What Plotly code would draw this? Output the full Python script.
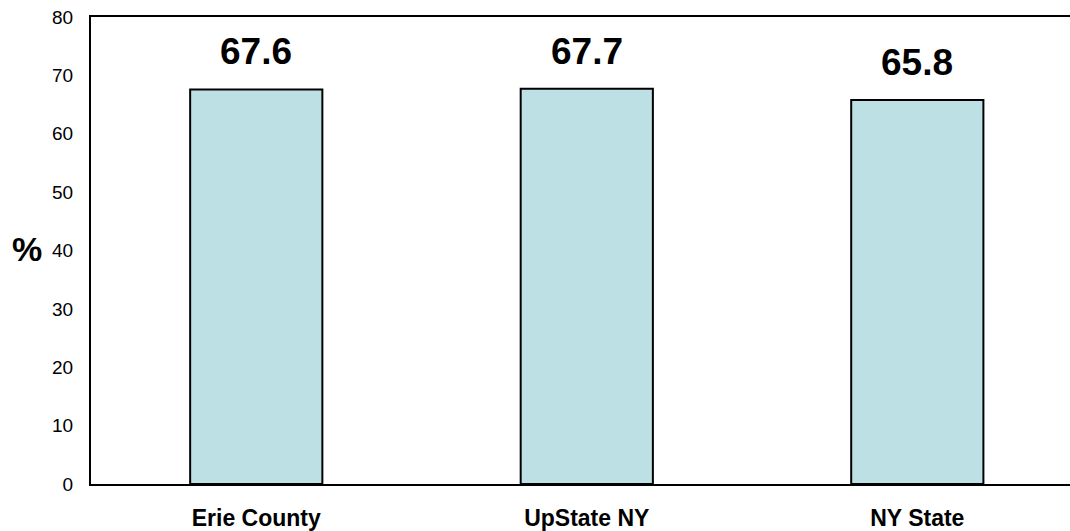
import plotly.graph_objects as go

categories = ["Erie County", "UpState NY", "NY State"]
values = [67.6, 67.7, 65.8]
y_ticks = [0, 10, 20, 30, 40, 50, 60, 70, 80]

FONT = "Liberation Sans, Arial"

fig = go.Figure()
fig.add_trace(go.Bar(
    x=categories,
    y=values,
    width=0.4,
    marker=dict(color="#BCE0E4", line=dict(color="black", width=2)),
    hoverinfo="skip",
))

# value labels above each bar
for cat, val in zip(categories, values):
    fig.add_annotation(
        x=cat, y=val, text=f"<b>{val:.1f}</b>", showarrow=False,
        yanchor="bottom", yshift=15,
        font=dict(family=FONT, size=37, color="black"),
    )

# horizontal axis title
fig.add_annotation(
    xref="paper", yref="paper", x=-0.049, y=0.503, xanchor="right",
    text="<b>%</b>", showarrow=False, borderpad=0,
    font=dict(family=FONT, size=34, color="black"),
)

fig.update_layout(
    width=1070, height=531,
    margin=dict(l=91, r=0, t=17, b=47),
    paper_bgcolor="white", plot_bgcolor="white",
    showlegend=False,
    xaxis=dict(
        range=[-0.5, 2.462],
        showline=True, linecolor="black", linewidth=2, mirror=True,
        showgrid=False, ticks="", ticklabelstandoff=12,
        tickfont=dict(family=FONT, size=23, color="black", weight="bold"),
    ),
    yaxis=dict(
        range=[0, 80], tickvals=y_ticks,
        showline=True, linecolor="black", linewidth=2,
        showgrid=False, zeroline=False, ticks="", ticklabelstandoff=12,
        tickfont=dict(family=FONT, size=19, color="black"),
    ),
)

fig.write_html("out.html")
